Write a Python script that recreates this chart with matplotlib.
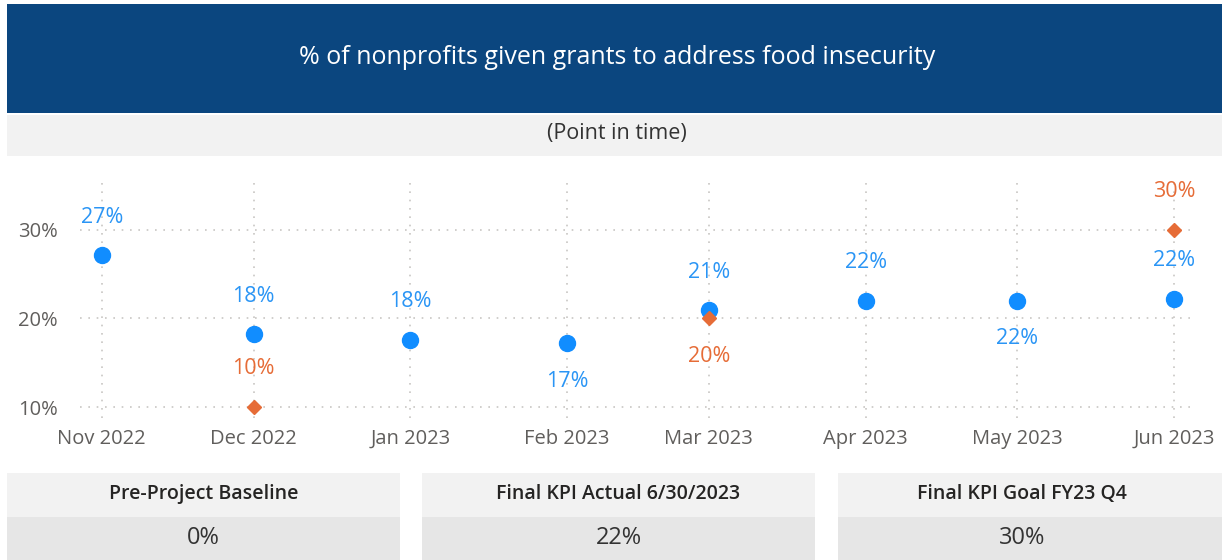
import matplotlib
matplotlib.use('Agg')
import matplotlib.pyplot as plt
import matplotlib.dates as mdates
import matplotlib.patches as mpatches
from matplotlib.ticker import FuncFormatter

# ── data ────────────────────────────────────────────────────────────────────
months = ['2022-11-01', '2022-12-01', '2023-01-01', '2023-02-01',
          '2023-03-01', '2023-04-01', '2023-05-01', '2023-06-01']
actual = [0.271, 0.182, 0.176, 0.172, 0.209, 0.220, 0.220, 0.222]
actual_pos = ['above', 'above', 'above', 'below', 'above', 'above', 'below', 'above']

goal_months = ['2022-12-01', '2023-03-01', '2023-06-01']
goal = [0.10, 0.20, 0.30]
goal_pos = ['above', 'below', 'above']

y_ticks = [0.10, 0.20, 0.30]

kpi_titles = ['Pre-Project Baseline', 'Final KPI Actual 6/30/2023', 'Final KPI Goal FY23 Q4']
kpi_values = ['0%', '22%', '30%']

# ── colours ─────────────────────────────────────────────────────────────────
C_HEADER = '#0B467F'
C_SUB = '#F2F2F2'
C_VAL = '#E6E6E6'
C_BLUE = '#118DFF'
C_BLUE_TXT = '#2A95F5'
C_ORANGE = '#E66C37'
C_AXIS = '#605E5C'
C_GRID = '#C8C6C4'

plt.rcParams['font.family'] = ['Open Sans', 'DejaVu Sans']

W, H = 1222, 560
fig = plt.figure(figsize=(W / 100, H / 100), dpi=100, facecolor='white')


def px_rect(x0, y0, x1, y1, color):
    # rectangle given in pixel coords (top-left origin)
    fig.patches.append(mpatches.Rectangle(
        (x0 / W, 1 - y1 / H), (x1 - x0) / W, (y1 - y0) / H,
        transform=fig.transFigure, facecolor=color, edgecolor='none', zorder=0))


def px_text(x, y, s, **kw):
    fig.text(x / W, 1 - y / H, s, ha='center', va='center', **kw)


# ── header bands ────────────────────────────────────────────────────────────
px_rect(7, 4, W, 113, C_HEADER)
px_rect(7, 115, W, 156, C_SUB)
px_text(617, 57, '% of nonprofits given grants to address food insecurity',
        color='white', fontsize=18)
px_text(617, 133, '(Point in time)', color='#333333', fontsize=15.5)

# ── chart ───────────────────────────────────────────────────────────────────
ax_l, ax_r, ax_t, ax_b = 80, 1195, 182, 418
ax = fig.add_axes([ax_l / W, 1 - ax_b / H, (ax_r - ax_l) / W, (ax_b - ax_t) / H])

x_act = mdates.datestr2num(months)
x_goal = mdates.datestr2num(goal_months)

ax.plot(x_act, actual, 'o', color=C_BLUE, markersize=11.5, zorder=3)
ax.plot(x_goal, goal, 'D', color=C_ORANGE, markersize=7.5, zorder=4)

off = 27.5
for x, v, p in zip(x_act, actual, actual_pos):
    ax.annotate(f'{v * 100:.0f}%', (x, v), xytext=(0, off if p == 'above' else -off),
                textcoords='offset points', ha='center', va='center',
                color=C_BLUE_TXT, fontsize=15.5, zorder=5)
for x, v, p in zip(x_goal, goal, goal_pos):
    ax.annotate(f'{v * 100:.0f}%', (x, v), xytext=(0, off if p == 'above' else -off),
                textcoords='offset points', ha='center', va='center',
                color=C_ORANGE, fontsize=15.5, zorder=5)

ax.set_xlim(x_act[0] - 4.3, x_act[-1] + 4.1)
ax.set_ylim(0.0876, 0.3539)
ax.set_xticks(x_act)
ax.set_xticklabels([mdates.num2date(x).strftime('%b %Y') for x in x_act])
ax.set_yticks(y_ticks)
ax.yaxis.set_major_formatter(FuncFormatter(lambda v, _: f'{v * 100:.0f}%'))
ax.tick_params(length=0, colors=C_AXIS, labelsize=14.5)
ax.tick_params(axis='x', pad=8)
ax.tick_params(axis='y', pad=16)
for s in ax.spines.values():
    s.set_visible(False)
ax.grid(True, linestyle=(0, (1, 4)), color=C_GRID, linewidth=1.2)
ax.set_axisbelow(True)

# ── KPI cards ───────────────────────────────────────────────────────────────
cards = [(7, 400), (422, 815), (838, W)]
for (x0, x1), title, val in zip(cards, kpi_titles, kpi_values):
    px_rect(x0, 473, x1, 517, C_SUB)
    px_rect(x0, 517, x1, H, C_VAL)
    cx = (x0 + x1) / 2 - (0 if x1 < W else 8)
    px_text(cx, 494, title, color='#252423', fontsize=14, fontweight='semibold')
    px_text(cx, 538, val, color='#333333', fontsize=17)

fig.savefig('out.png', dpi=100, facecolor='white')
